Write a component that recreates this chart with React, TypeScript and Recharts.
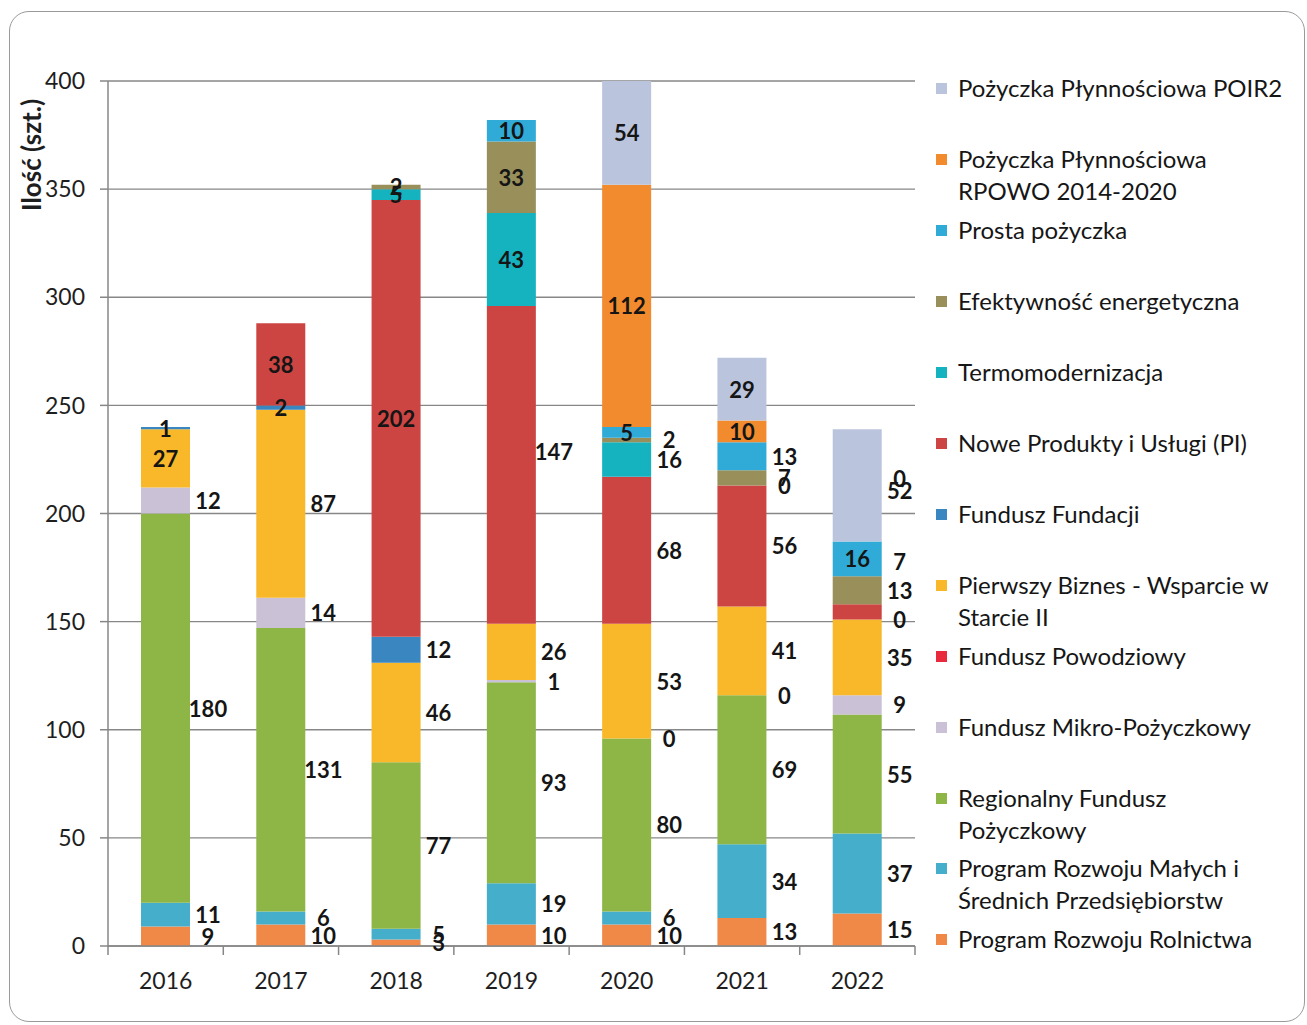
import React from 'react';
import { Bar, BarChart, CartesianGrid, LabelList, XAxis, YAxis } from 'recharts';

// lata i wartości (szt.) – kolejność serii od dołu stosu
const YEARS = ['2016', '2017', '2018', '2019', '2020', '2021', '2022'];

const ROLNICTWA = [9, 10, 3, 10, 10, 13, 15];
const MSP = [11, 6, 5, 19, 6, 34, 37];
const REGIONALNY = [180, 131, 77, 93, 80, 69, 55];
const MIKRO = [12, 14, null, 1, 0, 0, 9];
const POWODZIOWY = [null, null, null, null, null, null, null];
const PIERWSZY_BIZNES = [27, 87, 46, 26, 53, 41, 35];
const FUNDACJI = [1, 2, 12, null, null, null, 0];
const NOWE_PRODUKTY = [null, 38, 202, 147, 68, 56, 7];
const TERMO = [null, null, 5, 43, 16, 0, null];
const EFEKTYWNOSC = [null, null, 2, 33, 2, 7, 13];
const PROSTA = [null, null, null, 10, 5, 13, 16];
const RPOWO = [null, null, null, null, 112, 10, 0];
const POIR2 = [null, null, null, null, 54, 29, 52];

const SERIES = [
  { key: 'rolnictwa', name: 'Program Rozwoju Rolnictwa', values: ROLNICTWA },
  { key: 'msp', name: 'Program Rozwoju Małych i Średnich Przedsiębiorstw', values: MSP },
  { key: 'regionalny', name: 'Regionalny Fundusz Pożyczkowy', values: REGIONALNY },
  { key: 'mikro', name: 'Fundusz Mikro-Pożyczkowy', values: MIKRO },
  { key: 'powodziowy', name: 'Fundusz Powodziowy', values: POWODZIOWY },
  { key: 'pierwszy', name: 'Pierwszy Biznes - Wsparcie w Starcie II', values: PIERWSZY_BIZNES },
  { key: 'fundacji', name: 'Fundusz Fundacji', values: FUNDACJI },
  { key: 'nowe', name: 'Nowe Produkty i Usługi (PI)', values: NOWE_PRODUKTY },
  { key: 'termo', name: 'Termomodernizacja', values: TERMO },
  { key: 'efekt', name: 'Efektywność energetyczna', values: EFEKTYWNOSC },
  { key: 'prosta', name: 'Prosta pożyczka', values: PROSTA },
  { key: 'rpowo', name: 'Pożyczka Płynnościowa RPOWO 2014-2020', values: RPOWO },
  { key: 'poir2', name: 'Pożyczka Płynnościowa POIR2', values: POIR2 },
];

const COLORS: Record<string, string> = {
  rolnictwa: '#F08848',
  msp: '#45AECB',
  regionalny: '#8DB646',
  mikro: '#CBC1D6',
  powodziowy: '#E82A3C',
  pierwszy: '#F8B82A',
  fundacji: '#3A86C0',
  nowe: '#CD4543',
  termo: '#15B2C0',
  efekt: '#998F5A',
  prosta: '#30AAD6',
  rpowo: '#F28A2E',
  poir2: '#BAC5DD',
};

// etykiety rysowane w środku słupka (reszta obok, po prawej)
const INSIDE = new Set([
  '2016-pierwszy', '2016-fundacji',
  '2017-fundacji', '2017-nowe',
  '2018-nowe', '2018-termo', '2018-efekt',
  '2019-termo', '2019-efekt', '2019-prosta',
  '2020-prosta', '2020-rpowo', '2020-poir2',
  '2021-rpowo', '2021-poir2',
  '2022-prosta',
]);

// przesunięcia pionowe kilku etykiet, jak w oryginale
const LABEL_DY: Record<string, number> = {
  '2019-nowe': -13,
  '2022-nowe': -50,
  '2022-rpowo': -63,
  '2022-poir2': 5,
};

const PLOT_LEFT = 108;
const PLOT_RIGHT = 915;
const PLOT_TOP = 81;
const PLOT_BOTTOM = 946;
const BAND = (PLOT_RIGHT - PLOT_LEFT) / YEARS.length;
const AXIS_GRAY = '#878787';

const data = YEARS.map((year, i) => {
  const row: Record<string, any> = { year };
  SERIES.forEach((s) => {
    row[s.key] = s.values[i];
  });
  return row;
});

const makeLabel = (seriesKey: string) => (props: any) => {
  const { x, y, width, height, value } = props;
  if (value === null || value === undefined) return null;
  // rok z położenia słupka (indeks LabelList pomija puste wpisy)
  const col = Math.floor((x + width / 2 - PLOT_LEFT) / BAND);
  const id = `${YEARS[col]}-${seriesKey}`;
  const inside = INSIDE.has(id);
  const cx = inside ? x + width / 2 : x + width + 18;
  const cy = y + height / 2 + (LABEL_DY[id] || 0);
  return (
    <text
      x={cx}
      y={cy}
      textAnchor="middle"
      dominantBaseline="central"
      fontSize={22}
      fontWeight={700}
      fill="#151515"
    >
      {value}
    </text>
  );
};

const YearTick = (props: any) => {
  const { x, y, payload, index } = props;
  const left = x - BAND / 2;
  return (
    <g>
      <line x1={left} y1={PLOT_BOTTOM} x2={left} y2={PLOT_BOTTOM + 9} stroke={AXIS_GRAY} strokeWidth={1.5} />
      {index === YEARS.length - 1 && (
        <line x1={x + BAND / 2} y1={PLOT_BOTTOM} x2={x + BAND / 2} y2={PLOT_BOTTOM + 9} stroke={AXIS_GRAY} strokeWidth={1.5} />
      )}
      <text x={x} y={y + 34} textAnchor="middle" dominantBaseline="central" fontSize={23} fill="#1e1e1e">
        {payload.value}
      </text>
    </g>
  );
};

const YTitle = () => (
  <text
    x={31}
    y={155}
    transform="rotate(-90 31 155)"
    textAnchor="middle"
    dominantBaseline="central"
    fontSize={26}
    fontWeight={700}
    fill="#1e1e1e"
  >
    Ilość (szt.)
  </text>
);

function ChartLegend() {
  const items = [...SERIES].reverse();
  return (
    <div style={{ position: 'absolute', left: 936, top: 72, width: 360 }}>
      {items.map((s, i) => (
        <div key={s.key} style={{ position: 'absolute', left: 0, top: i * 70.95, display: 'flex', alignItems: 'flex-start' }}>
          <div style={{ width: 11, height: 11, marginTop: 11, background: COLORS[s.key], flex: 'none' }} />
          <div style={{ marginLeft: 11, width: 326, fontSize: 24, lineHeight: '32px', color: '#161616' }}>{s.name}</div>
        </div>
      ))}
    </div>
  );
}

export default function App() {
  return (
    <div
      style={{
        position: 'absolute',
        left: 0,
        top: 0,
        width: 1307,
        height: 1025,
        background: '#fff',
        overflow: 'hidden',
        fontFamily: 'Lato, "Open Sans", sans-serif',
      }}
    >
      <div
        style={{
          position: 'absolute',
          left: 9,
          top: 11,
          width: 1294,
          height: 1009,
          border: '1.5px solid #9a9a9a',
          borderRadius: 20,
        }}
      />
      <div style={{ position: 'absolute', left: 0, top: 0 }}>
        <BarChart
          width={1307}
          height={1025}
          data={data}
          barSize={49}
          margin={{ top: PLOT_TOP, right: 1307 - PLOT_RIGHT, bottom: 1025 - PLOT_BOTTOM - 60, left: PLOT_LEFT - 100 }}
        >
          <CartesianGrid vertical={false} stroke={AXIS_GRAY} strokeWidth={1.3} />
          <XAxis
            dataKey="year"
            height={60}
            tickSize={0}
            tickMargin={0}
            tickLine={false}
            axisLine={{ stroke: AXIS_GRAY, strokeWidth: 1.5 }}
            tick={<YearTick />}
            interval={0}
          />
          <YAxis
            width={100}
            domain={[0, 400]}
            ticks={[0, 50, 100, 150, 200, 250, 300, 350, 400]}
            allowDataOverflow
            tickSize={8}
            tickMargin={15}
            tickLine={{ stroke: AXIS_GRAY, strokeWidth: 1.5 }}
            axisLine={{ stroke: AXIS_GRAY, strokeWidth: 1.5 }}
            tick={{ fontSize: 23, fill: '#1e1e1e' }}
            label={<YTitle />}
          />
          {SERIES.map((s) => (
            <Bar
              key={s.key}
              dataKey={s.key}
              name={s.name}
              stackId="a"
              fill={COLORS[s.key]}
              minPointSize={0.01}
              isAnimationActive={false}
            >
              <LabelList dataKey={s.key} content={makeLabel(s.key)} />
            </Bar>
          ))}
        </BarChart>
      </div>
      <ChartLegend />
    </div>
  );
}
